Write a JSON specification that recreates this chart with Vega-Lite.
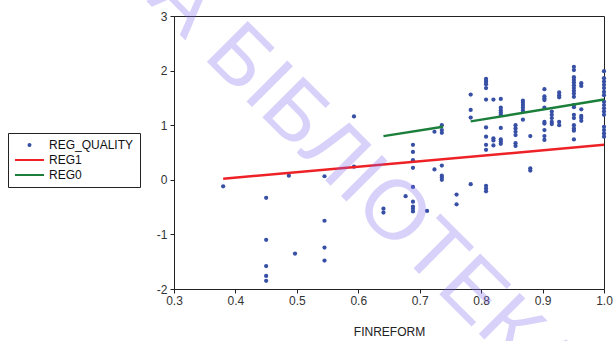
{
  "$schema": "https://vega.github.io/schema/vega-lite/v6.json",
  "autosize": "none",
  "width": 430,
  "height": 273,
  "padding": {"left": 174, "top": 16, "right": 10, "bottom": 52},
  "background": "white",
  "config": {
    "font": "Liberation Sans",
    "view": {"stroke": "#222222", "strokeWidth": 1},
    "axis": {
      "grid": false,
      "domainColor": "#222222",
      "tickColor": "#222222",
      "tickSize": 4,
      "labelFont": "Liberation Sans",
      "labelFontSize": 12,
      "labelColor": "#333333",
      "titleFont": "Liberation Sans",
      "titleFontSize": 12,
      "titleFontWeight": "normal",
      "titleColor": "#222222"
    },
    "legend": {
      "labelFont": "Liberation Sans",
      "labelFontSize": 12,
      "labelColor": "#111111"
    }
  },
  "resolve": {"legend": {"color": "independent", "shape": "independent"}},
  "datasets": {
    "pts": [
      {"x": 0.38, "y": -0.12, "s": "REG_QUALITY"},
      {"x": 0.45, "y": -0.33, "s": "REG_QUALITY"},
      {"x": 0.45, "y": -1.10, "s": "REG_QUALITY"},
      {"x": 0.45, "y": -1.58, "s": "REG_QUALITY"},
      {"x": 0.45, "y": -1.76, "s": "REG_QUALITY"},
      {"x": 0.45, "y": -1.85, "s": "REG_QUALITY"},
      {"x": 0.487, "y": 0.075, "s": "REG_QUALITY"},
      {"x": 0.497, "y": -1.35, "s": "REG_QUALITY"},
      {"x": 0.545, "y": 0.065, "s": "REG_QUALITY"},
      {"x": 0.545, "y": -0.75, "s": "REG_QUALITY"},
      {"x": 0.545, "y": -1.24, "s": "REG_QUALITY"},
      {"x": 0.545, "y": -1.48, "s": "REG_QUALITY"},
      {"x": 0.593, "y": 1.16, "s": "REG_QUALITY"},
      {"x": 0.593, "y": 0.24, "s": "REG_QUALITY"},
      {"x": 0.641, "y": -0.53, "s": "REG_QUALITY"},
      {"x": 0.641, "y": -0.60, "s": "REG_QUALITY"},
      {"x": 0.677, "y": -0.30, "s": "REG_QUALITY"},
      {"x": 0.689, "y": 0.64, "s": "REG_QUALITY"},
      {"x": 0.689, "y": 0.51, "s": "REG_QUALITY"},
      {"x": 0.689, "y": 0.36, "s": "REG_QUALITY"},
      {"x": 0.689, "y": 0.22, "s": "REG_QUALITY"},
      {"x": 0.689, "y": -0.13, "s": "REG_QUALITY"},
      {"x": 0.689, "y": -0.40, "s": "REG_QUALITY"},
      {"x": 0.689, "y": -0.49, "s": "REG_QUALITY"},
      {"x": 0.689, "y": -0.53, "s": "REG_QUALITY"},
      {"x": 0.689, "y": -0.58, "s": "REG_QUALITY"},
      {"x": 0.712, "y": -0.57, "s": "REG_QUALITY"},
      {"x": 0.724, "y": 0.88, "s": "REG_QUALITY"},
      {"x": 0.724, "y": 0.19, "s": "REG_QUALITY"},
      {"x": 0.736, "y": 1.00, "s": "REG_QUALITY"},
      {"x": 0.736, "y": 0.91, "s": "REG_QUALITY"},
      {"x": 0.736, "y": 0.86, "s": "REG_QUALITY"},
      {"x": 0.736, "y": 0.26, "s": "REG_QUALITY"},
      {"x": 0.736, "y": 0.075, "s": "REG_QUALITY"},
      {"x": 0.736, "y": 0.04, "s": "REG_QUALITY"},
      {"x": 0.736, "y": 0.0, "s": "REG_QUALITY"},
      {"x": 0.76, "y": -0.27, "s": "REG_QUALITY"},
      {"x": 0.76, "y": -0.45, "s": "REG_QUALITY"},
      {"x": 0.783, "y": 1.56, "s": "REG_QUALITY"},
      {"x": 0.783, "y": 1.28, "s": "REG_QUALITY"},
      {"x": 0.783, "y": 1.14, "s": "REG_QUALITY"},
      {"x": 0.783, "y": -0.08, "s": "REG_QUALITY"},
      {"x": 0.808, "y": 1.85, "s": "REG_QUALITY"},
      {"x": 0.808, "y": 1.81, "s": "REG_QUALITY"},
      {"x": 0.808, "y": 1.79, "s": "REG_QUALITY"},
      {"x": 0.808, "y": 1.75, "s": "REG_QUALITY"},
      {"x": 0.808, "y": 1.68, "s": "REG_QUALITY"},
      {"x": 0.808, "y": 1.47, "s": "REG_QUALITY"},
      {"x": 0.808, "y": 0.96, "s": "REG_QUALITY"},
      {"x": 0.808, "y": 0.79, "s": "REG_QUALITY"},
      {"x": 0.808, "y": 0.64, "s": "REG_QUALITY"},
      {"x": 0.808, "y": 0.55, "s": "REG_QUALITY"},
      {"x": 0.808, "y": -0.11, "s": "REG_QUALITY"},
      {"x": 0.808, "y": -0.16, "s": "REG_QUALITY"},
      {"x": 0.808, "y": -0.21, "s": "REG_QUALITY"},
      {"x": 0.82, "y": 1.47, "s": "REG_QUALITY"},
      {"x": 0.82, "y": 0.76, "s": "REG_QUALITY"},
      {"x": 0.82, "y": 0.72, "s": "REG_QUALITY"},
      {"x": 0.82, "y": 0.63, "s": "REG_QUALITY"},
      {"x": 0.832, "y": 1.48, "s": "REG_QUALITY"},
      {"x": 0.832, "y": 1.32, "s": "REG_QUALITY"},
      {"x": 0.832, "y": 1.27, "s": "REG_QUALITY"},
      {"x": 0.832, "y": 1.23, "s": "REG_QUALITY"},
      {"x": 0.832, "y": 1.19, "s": "REG_QUALITY"},
      {"x": 0.832, "y": 0.95, "s": "REG_QUALITY"},
      {"x": 0.832, "y": 0.74, "s": "REG_QUALITY"},
      {"x": 0.832, "y": 0.70, "s": "REG_QUALITY"},
      {"x": 0.832, "y": 0.66, "s": "REG_QUALITY"},
      {"x": 0.856, "y": 1.00, "s": "REG_QUALITY"},
      {"x": 0.856, "y": 0.94, "s": "REG_QUALITY"},
      {"x": 0.856, "y": 0.88, "s": "REG_QUALITY"},
      {"x": 0.856, "y": 0.82, "s": "REG_QUALITY"},
      {"x": 0.856, "y": 0.67, "s": "REG_QUALITY"},
      {"x": 0.856, "y": 0.62, "s": "REG_QUALITY"},
      {"x": 0.868, "y": 1.45, "s": "REG_QUALITY"},
      {"x": 0.868, "y": 1.41, "s": "REG_QUALITY"},
      {"x": 0.868, "y": 1.37, "s": "REG_QUALITY"},
      {"x": 0.868, "y": 1.32, "s": "REG_QUALITY"},
      {"x": 0.868, "y": 1.27, "s": "REG_QUALITY"},
      {"x": 0.868, "y": 1.10, "s": "REG_QUALITY"},
      {"x": 0.88, "y": 0.80, "s": "REG_QUALITY"},
      {"x": 0.88, "y": 0.21, "s": "REG_QUALITY"},
      {"x": 0.88, "y": 0.17, "s": "REG_QUALITY"},
      {"x": 0.903, "y": 1.66, "s": "REG_QUALITY"},
      {"x": 0.903, "y": 1.53, "s": "REG_QUALITY"},
      {"x": 0.903, "y": 1.49, "s": "REG_QUALITY"},
      {"x": 0.903, "y": 1.46, "s": "REG_QUALITY"},
      {"x": 0.903, "y": 1.32, "s": "REG_QUALITY"},
      {"x": 0.903, "y": 1.06, "s": "REG_QUALITY"},
      {"x": 0.903, "y": 1.03, "s": "REG_QUALITY"},
      {"x": 0.903, "y": 0.91, "s": "REG_QUALITY"},
      {"x": 0.903, "y": 0.80, "s": "REG_QUALITY"},
      {"x": 0.903, "y": 0.73, "s": "REG_QUALITY"},
      {"x": 0.915, "y": 1.25, "s": "REG_QUALITY"},
      {"x": 0.915, "y": 1.19, "s": "REG_QUALITY"},
      {"x": 0.915, "y": 1.13, "s": "REG_QUALITY"},
      {"x": 0.915, "y": 1.06, "s": "REG_QUALITY"},
      {"x": 0.915, "y": 1.02, "s": "REG_QUALITY"},
      {"x": 0.927, "y": 1.60, "s": "REG_QUALITY"},
      {"x": 0.927, "y": 1.55, "s": "REG_QUALITY"},
      {"x": 0.927, "y": 1.51, "s": "REG_QUALITY"},
      {"x": 0.927, "y": 1.06, "s": "REG_QUALITY"},
      {"x": 0.927, "y": 1.00, "s": "REG_QUALITY"},
      {"x": 0.951, "y": 2.07, "s": "REG_QUALITY"},
      {"x": 0.951, "y": 2.01, "s": "REG_QUALITY"},
      {"x": 0.951, "y": 1.88, "s": "REG_QUALITY"},
      {"x": 0.951, "y": 1.83, "s": "REG_QUALITY"},
      {"x": 0.951, "y": 1.78, "s": "REG_QUALITY"},
      {"x": 0.951, "y": 1.73, "s": "REG_QUALITY"},
      {"x": 0.951, "y": 1.68, "s": "REG_QUALITY"},
      {"x": 0.951, "y": 1.63, "s": "REG_QUALITY"},
      {"x": 0.951, "y": 1.58, "s": "REG_QUALITY"},
      {"x": 0.951, "y": 1.52, "s": "REG_QUALITY"},
      {"x": 0.951, "y": 1.37, "s": "REG_QUALITY"},
      {"x": 0.951, "y": 1.33, "s": "REG_QUALITY"},
      {"x": 0.951, "y": 1.19, "s": "REG_QUALITY"},
      {"x": 0.951, "y": 1.13, "s": "REG_QUALITY"},
      {"x": 0.951, "y": 1.00, "s": "REG_QUALITY"},
      {"x": 0.951, "y": 0.94, "s": "REG_QUALITY"},
      {"x": 0.951, "y": 0.90, "s": "REG_QUALITY"},
      {"x": 0.951, "y": 0.74, "s": "REG_QUALITY"},
      {"x": 0.963, "y": 1.77, "s": "REG_QUALITY"},
      {"x": 0.963, "y": 1.72, "s": "REG_QUALITY"},
      {"x": 0.963, "y": 1.29, "s": "REG_QUALITY"},
      {"x": 0.963, "y": 1.17, "s": "REG_QUALITY"},
      {"x": 0.963, "y": 1.13, "s": "REG_QUALITY"},
      {"x": 0.963, "y": 1.08, "s": "REG_QUALITY"},
      {"x": 1.0, "y": 1.99, "s": "REG_QUALITY"},
      {"x": 1.0, "y": 1.86, "s": "REG_QUALITY"},
      {"x": 1.0, "y": 1.80, "s": "REG_QUALITY"},
      {"x": 1.0, "y": 1.74, "s": "REG_QUALITY"},
      {"x": 1.0, "y": 1.68, "s": "REG_QUALITY"},
      {"x": 1.0, "y": 1.61, "s": "REG_QUALITY"},
      {"x": 1.0, "y": 1.55, "s": "REG_QUALITY"},
      {"x": 1.0, "y": 1.43, "s": "REG_QUALITY"},
      {"x": 1.0, "y": 1.37, "s": "REG_QUALITY"},
      {"x": 1.0, "y": 1.31, "s": "REG_QUALITY"},
      {"x": 1.0, "y": 1.25, "s": "REG_QUALITY"},
      {"x": 1.0, "y": 1.19, "s": "REG_QUALITY"},
      {"x": 1.0, "y": 0.97, "s": "REG_QUALITY"},
      {"x": 1.0, "y": 0.91, "s": "REG_QUALITY"},
      {"x": 1.0, "y": 0.85, "s": "REG_QUALITY"},
      {"x": 1.0, "y": 0.79, "s": "REG_QUALITY"}
    ],
    "fits": [
      {"x": 0.38, "y": 0.02, "s": "REG1", "seg": "a"},
      {"x": 1.0, "y": 0.64, "s": "REG1", "seg": "a"},
      {"x": 0.641, "y": 0.80, "s": "REG0", "seg": "b"},
      {"x": 0.738, "y": 0.97, "s": "REG0", "seg": "b"},
      {"x": 0.783, "y": 1.07, "s": "REG0", "seg": "c"},
      {"x": 1.0, "y": 1.47, "s": "REG0", "seg": "c"}
    ],
    "wmk": [
      {"wx": 0.3456, "wy": 2.25, "t": "БІБЛІОТЕКА", "ux": 0.319, "uy": 2.548, "u": "НАУКОВА"}
    ]
  },
  "layer": [
    {
      "data": {"name": "pts"},
      "mark": {"type": "point", "filled": true, "size": 18, "opacity": 1},
      "encoding": {
        "x": {"field": "x", "type": "quantitative", "title": "FINREFORM",
              "scale": {"domain": [0.3, 1.0], "nice": false, "zero": false},
              "axis": {"values": [0.3, 0.4, 0.5, 0.6, 0.7, 0.8, 0.9, 1.0], "format": ".1f", "labelPadding": 2, "titlePadding": 20, "labelFlush": false}},
        "y": {"field": "y", "type": "quantitative", "title": null,
              "scale": {"domain": [-2, 3], "nice": false, "zero": false},
              "axis": {"values": [-2, -1, 0, 1, 2, 3], "labelPadding": 3, "labelFlush": false,
                       "labelExpr": "datum.value < 0 ? '-' + abs(datum.value) : '' + datum.value"}},
        "color": {
          "field": "s", "type": "nominal",
          "scale": {"domain": ["REG_QUALITY", "REG1", "REG0"], "range": ["#3750a5", "#ee2226", "#1b7f3b"]},
          "legend": null
        }
      }
    },
    {
      "data": {"name": "fits"},
      "mark": {"type": "line", "strokeWidth": 2.5},
      "encoding": {
        "x": {"field": "x", "type": "quantitative"},
        "y": {"field": "y", "type": "quantitative"},
        "color": {"field": "s", "type": "nominal", "legend": null},
        "detail": {"field": "seg", "type": "nominal"}
      }
    },
    {
      "data": {"name": "fits"},
      "mark": {"type": "point", "filled": false, "opacity": 0, "size": 1},
      "encoding": {
        "x": {"field": "x", "type": "quantitative"},
        "y": {"field": "y", "type": "quantitative"},
        "color": {
          "field": "s", "type": "nominal",
          "legend": {
            "title": null,
            "orient": "none",
            "legendX": -166,
            "legendY": 117,
            "strokeColor": "#222222",
            "fillColor": "white",
            "padding": 6,
            "rowPadding": 3,
            "symbolSize": 64,
            "symbolStrokeWidth": 2,
            "symbolOpacity": 1,
            "labelOffset": 23
          }
        },
        "shape": {
          "field": "s", "type": "nominal",
          "scale": {"domain": ["REG_QUALITY", "REG1", "REG0"], "range": ["M2.125,0A0.25,0.25 0 1,0 2.625,0A0.25,0.25 0 1,0 2.125,0Z", "M-1.25,0H6", "M-1.25,0H6"]},
          "legend": {
            "title": null,
            "orient": "none",
            "legendX": -166,
            "legendY": 117,
            "strokeColor": "#222222",
            "fillColor": "white",
            "padding": 6,
            "rowPadding": 3,
            "symbolSize": 64,
            "symbolStrokeWidth": 2,
            "symbolOpacity": 1,
            "labelOffset": 23
          }
        }
      }
    },
    {
      "data": {"name": "wmk"},
      "mark": {"type": "text", "font": "Liberation Sans", "fontSize": 84, "angle": 45, "align": "left", "baseline": "alphabetic", "fill": "#7d66f0", "fillOpacity": 0.3},
      "encoding": {
        "x": {"field": "wx", "type": "quantitative"},
        "y": {"field": "wy", "type": "quantitative"},
        "text": {"field": "t", "type": "nominal"}
      }
    },
    {
      "data": {"name": "wmk"},
      "mark": {"type": "text", "font": "Liberation Sans", "fontSize": 84, "angle": 45, "align": "right", "baseline": "alphabetic", "fill": "#7d66f0", "fillOpacity": 0.3},
      "encoding": {
        "x": {"field": "ux", "type": "quantitative"},
        "y": {"field": "uy", "type": "quantitative"},
        "text": {"field": "u", "type": "nominal"}
      }
    }
  ]
}
